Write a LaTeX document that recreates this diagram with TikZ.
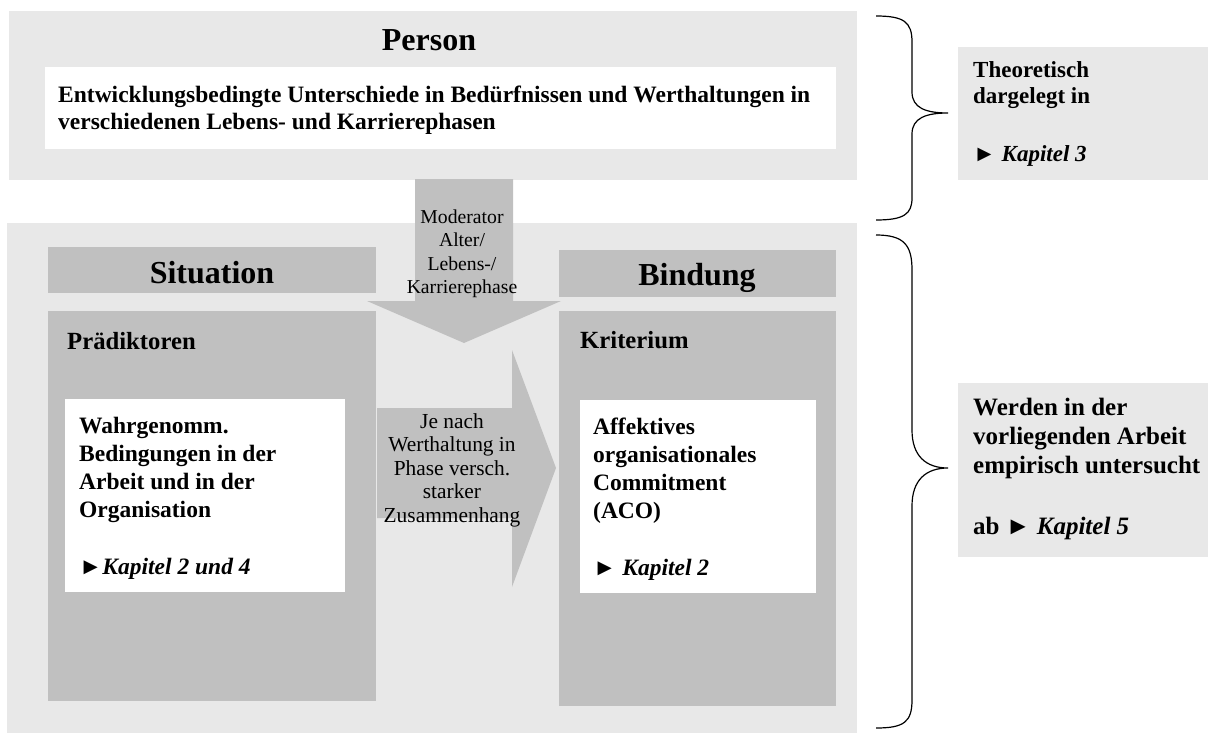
\documentclass[tikz,border=0pt]{standalone}
\usepackage{fontspec}
\setmainfont{Liberation Serif}
\definecolor{paneBG}{HTML}{E8E8E8}
\definecolor{boxGray}{HTML}{C0C0C0}
\begin{document}
\begin{tikzpicture}[x=1pt,y=-1pt,
  pane/.style={fill=paneBG},
  block/.style={fill=boxGray},
  card/.style={fill=white},
  hdr/.style={anchor=base, inner sep=0pt, font=\bfseries\fontsize{32}{36}\selectfont},
  txt/.style={anchor=base west, inner sep=0pt, font=\bfseries\fontsize{23.5}{27}\selectfont},
  lbl/.style={anchor=base west, inner sep=0pt, font=\bfseries\fontsize{24.7}{28}\selectfont},
  sidetxt/.style={anchor=base west, inner sep=0pt, font=\bfseries\fontsize{23}{27}\selectfont},
  bigside/.style={anchor=base west, inner sep=0pt, font=\bfseries\fontsize{25}{29}\selectfont},
  modtxt/.style={anchor=base, inner sep=0pt, font=\fontsize{19.7}{23}\selectfont},
  linktxt/.style={anchor=base, inner sep=0pt, font=\fontsize{21.4}{24}\selectfont},
  brace/.style={draw=black, line width=1.2pt}]
\useasboundingbox (0,0) rectangle (1208,734);

% panels
\fill[pane] (9,11) rectangle (857,180);
\fill[card] (45,67) rectangle (836,149);
\fill[pane] (7,223) rectangle (857,733);

% Situation column
\fill[block] (48,247) rectangle (376,293);
\fill[block] (48,311) rectangle (376,701);
\fill[card] (65,399) rectangle (345,592);

% Bindung column
\fill[block] (559,250) rectangle (836,297);
\fill[block] (559,311) rectangle (836,706);
\fill[card] (580,400) rectangle (816,593);

% side notes
\fill[pane] (958,47) rectangle (1208,180);
\fill[pane] (958,383) rectangle (1208,557);

% moderator arrow (down)
\fill[block] (415,179) -- (513,179) -- (513,301) -- (561,301) -- (464,343)
  -- (367,301) -- (415,301) -- cycle;
% link arrow (right)
\fill[block] (377,408) -- (512,408) -- (512,350) -- (556,468) -- (512,587)
  -- (512,518) -- (377,518) -- cycle;

% braces
\coordinate (b1tip) at (948,113);
\coordinate (b2tip) at (948,468);
\draw[brace] (876,16) .. controls (904,16) and (912,22) .. (912,42) -- (912,92)
  .. controls (912,108) and (926,113) .. (b1tip)
  .. controls (926,113) and (912,118) .. (912,134) -- (912,198)
  .. controls (912,214) and (904,220) .. (876,220);
\draw[brace] (876,235) .. controls (904,235) and (912,245) .. (912,270) -- (912,430)
  .. controls (912,456) and (926,468) .. (b2tip)
  .. controls (926,468) and (912,480) .. (912,506) -- (912,700)
  .. controls (912,722) and (904,728) .. (876,728);

% headings
\node[hdr] (person) at (429,50) {Person};
\node[hdr] (situation) at (212,283) {Situation};
\node[hdr] (bindung) at (697,285) {Bindung};

% person text
\node[txt] (p1) at (58,102) {Entwicklungsbedingte Unterschiede in Bedürfnissen und Werthaltungen in};
\node[txt] (p2) at (58,129.5) {verschiedenen Lebens- und Karrierephasen};

% predictors
\node[lbl] (praed) at (67,349) {Prädiktoren};
\node[txt] (w1) at (79,433) {Wahrgenomm.};
\node[txt] (w2) at (79,461) {Bedingungen in der};
\node[txt] (w3) at (79,489) {Arbeit und in der};
\node[txt] (w4) at (79,517) {Organisation};
\node[txt] (w5) at (79,574) {►\textit{Kapitel 2 und 4}};

% criterion
\node[lbl] (krit) at (580,348) {Kriterium};
\node[txt] (a1) at (593,434) {Affektives};
\node[txt] (a2) at (593,462) {organisationales};
\node[txt] (a3) at (593,490) {Commitment};
\node[txt] (a4) at (593,518) {(ACO)};
\node[txt] (a5) at (593,575) {► \textit{Kapitel 2}};

% moderator label
\node[modtxt] (m1) at (462,223) {Moderator};
\node[modtxt] (m2) at (462,246.5) {Alter/};
\node[modtxt] (m3) at (462,270) {Lebens-/};
\node[modtxt] (m4) at (462,293.3) {Karrierephase};

% link label
\node[linktxt] (l1) at (452,428) {Je nach};
\node[linktxt] (l2) at (452,451.5) {Werthaltung in};
\node[linktxt] (l3) at (452,475) {Phase versch.};
\node[linktxt] (l4) at (452,498.5) {starker};
\node[linktxt] (l5) at (452,522) {Zusammenhang};

% side notes
\node[sidetxt] (t1) at (973,77) {Theoretisch};
\node[sidetxt] (t2) at (973,103) {dargelegt in};
\node[sidetxt] (t3) at (973,161) {► \textit{Kapitel 3}};

\node[bigside] (e1) at (973,415) {Werden in der};
\node[bigside] (e2) at (973,444) {vorliegenden Arbeit};
\node[bigside] (e3) at (973,473) {empirisch untersucht};
\node[bigside] (e4) at (973,534) {ab ► \textit{Kapitel 5}};
\end{tikzpicture}
\end{document}
